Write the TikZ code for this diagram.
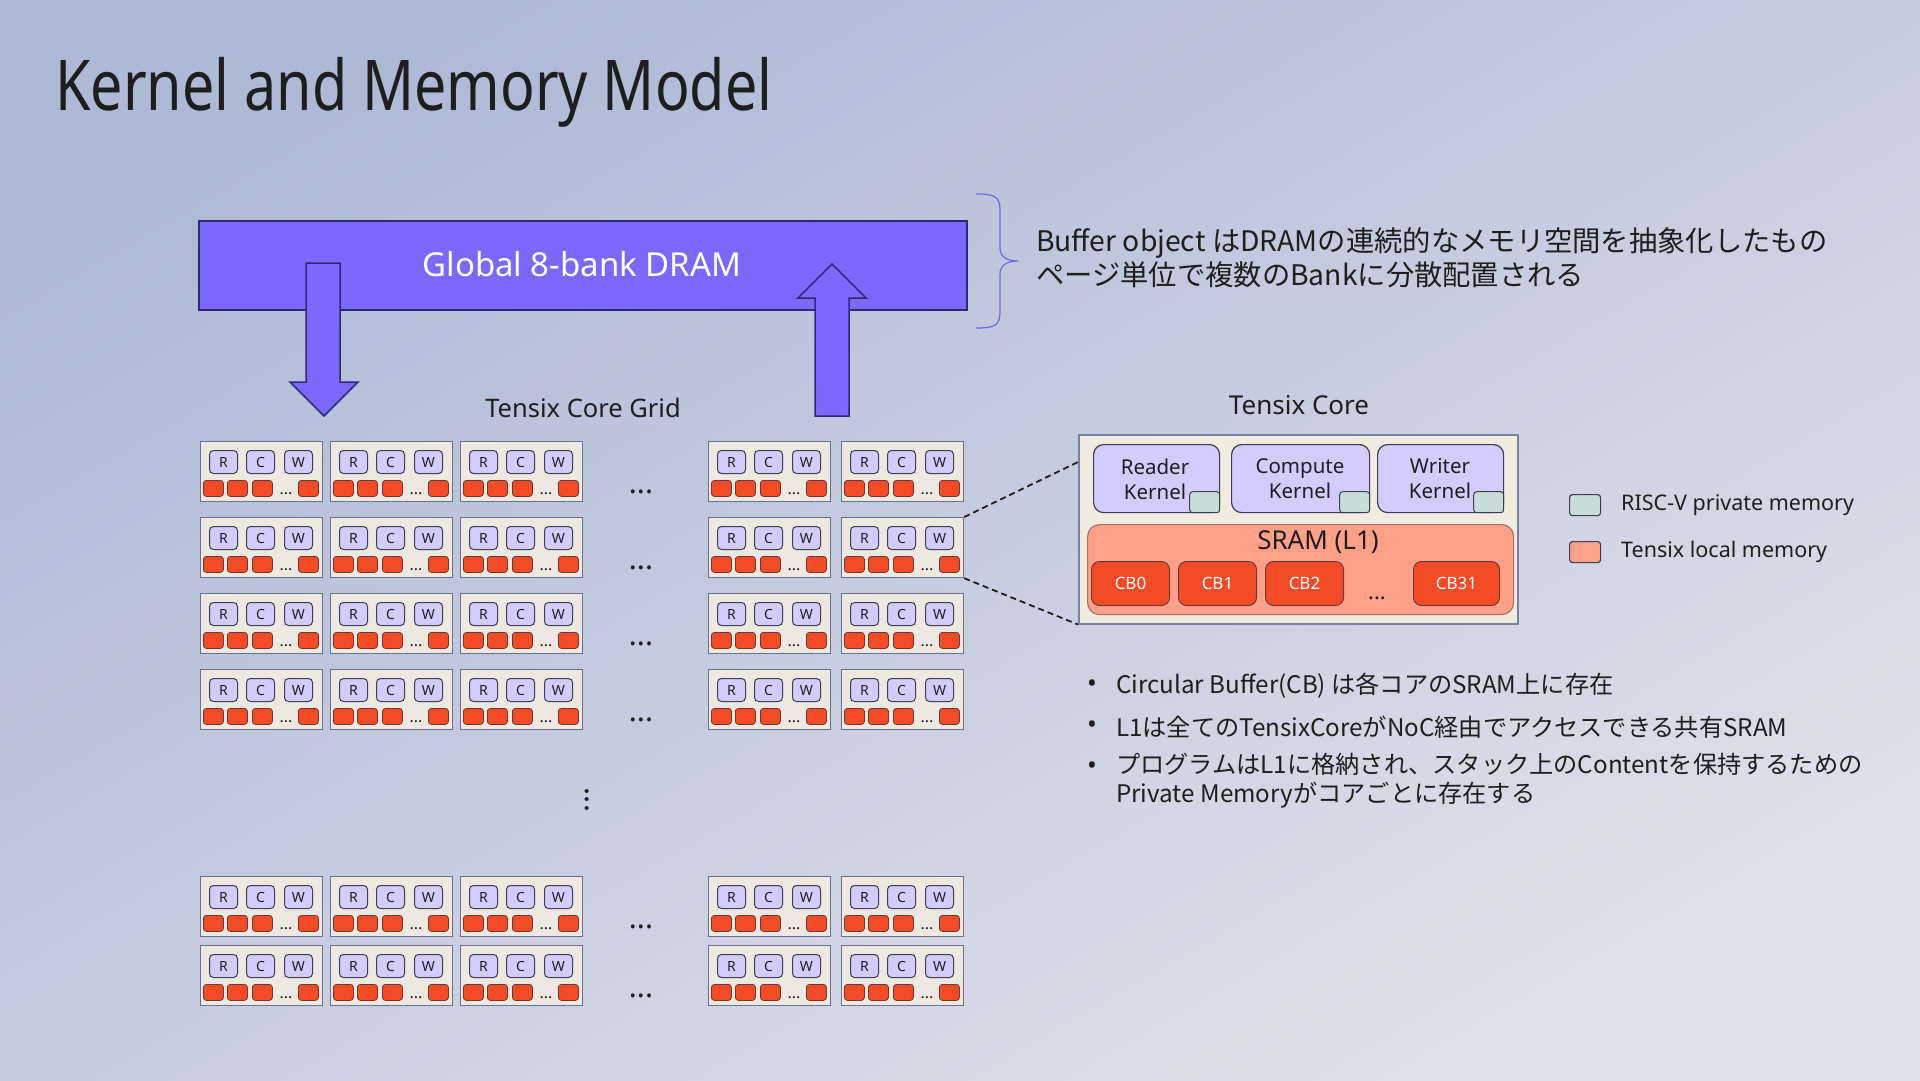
\documentclass[tikz,border=0pt]{standalone}
\usepackage{fontspec}
\setmainfont{Noto Sans}
\newfontfamily\jp{Noto Sans CJK JP}
\newfontfamily\titlefont[FakeStretch=0.82]{Noto Sans}
\definecolor{bgA}{HTML}{AEB9D6}
\definecolor{bgB}{HTML}{DEE0EA}
\definecolor{dramfill}{HTML}{7B68FF}
\definecolor{dramborder}{HTML}{2E2A70}
\definecolor{kfill}{HTML}{D4CCFF}
\definecolor{kborder}{HTML}{3E3E52}
\definecolor{tealfill}{HTML}{C8DDD8}
\definecolor{salmon}{HTML}{FFA089}
\definecolor{salmonborder}{HTML}{B0705F}
\definecolor{cbred}{HTML}{F44B27}
\definecolor{cbborder}{HTML}{6A3A3A}
\definecolor{cellfill}{HTML}{EEE9E0}
\definecolor{cellborder}{HTML}{6A7090}
\definecolor{corefill}{HTML}{F1ECE0}
\definecolor{coreborder}{HTML}{7A80A0}
\definecolor{txt}{HTML}{1E1E1E}
\definecolor{bracecol}{HTML}{6B6BE6}
\tikzset{
  cellbox/.style={draw=cellborder, fill=cellfill, line width=1.2pt, inner sep=0pt, anchor=north west, minimum width=122pt, minimum height=60pt},
  kbox/.style={draw=kborder, fill=kfill, rounded corners=4pt, line width=1pt, minimum width=28pt, minimum height=23pt, inner sep=0pt, anchor=north west, text=txt, font=\fontsize{14}{14}\selectfont},
  rbox/.style={draw=cbborder, fill=cbred, rounded corners=3pt, line width=0.8pt, minimum width=20pt, minimum height=16pt, inner sep=0pt, anchor=north west},
  celldots/.style={inner sep=0pt, text=txt, font=\bfseries\fontsize{16}{16}\selectfont},
  griddots/.style={inner sep=0pt, text=txt, font=\bfseries\fontsize{30}{30}\selectfont},
  bigarrow/.style={draw=dramborder, fill=dramfill, line width=1.5pt, line join=miter},
  kernelbox/.style={draw=kborder, fill=kfill, rounded corners=10pt, line width=1.2pt, inner sep=0pt, anchor=north west},
  privbox/.style={draw=kborder, fill=tealfill, rounded corners=3pt, line width=1pt, inner sep=0pt, anchor=south east, minimum width=30pt, minimum height=21pt},
  cbbox/.style={draw=cbborder, fill=cbred, rounded corners=8pt, line width=1pt, inner sep=0pt, anchor=north west, minimum width=78pt, minimum height=44pt, text=white, font=\fontsize{17}{17}\selectfont},
  legendbox/.style={draw=kborder, rounded corners=3pt, line width=1.2pt, inner sep=0pt, anchor=north west, minimum width=31pt, minimum height=21pt},
  label/.style={inner sep=0pt, text=txt},
  jptext/.style={inner sep=0pt, text=txt, align=left, anchor=west},
  zoomline/.style={txt, line width=1.8pt, dash pattern=on 6pt off 4pt},
  bullet/.style={inner sep=0pt, text=txt, font=\fontsize{26}{26}\selectfont},
}
\begin{document}
\begin{tikzpicture}[x=1pt,y=-1pt]
\useasboundingbox (0,0) rectangle (1920,1080);
\shade[left color=bgA, right color=bgB, shading angle=30] (0,0) rectangle (1920,1080);

% title
\node[label, anchor=base west, font=\titlefont\fontsize{70}{80}\selectfont] (title) at (55,110) {Kernel and Memory Model};

% DRAM
\node[draw=dramborder, fill=dramfill, line width=1.5pt, anchor=north west, minimum width=768pt, minimum height=89pt, inner sep=0pt] (dram) at (198,220) {};
% arrows
\filldraw[bigarrow] (306,263) -- (340,263) -- (340,382) -- (358,382) -- (324,416) -- (290,382) -- (306,382) -- cycle;
\filldraw[bigarrow] (815,416) -- (849,416) -- (849,298) -- (866,298) -- (832,264) -- (798,298) -- (815,298) -- cycle;
\node[label, text=white, font=\fontsize{33}{33}\selectfont] (dramlbl) at (582,264) {Global 8-bank DRAM};

% brace
\draw[bracecol, line width=1.2pt] (976,194) .. controls (994,194) and (1000,196) .. (1000,210) -- (1000,248) .. controls (1000,256) and (1006,261) .. (1018,261) .. controls (1006,261) and (1000,266) .. (1000,274) -- (1000,312) .. controls (1000,326) and (994,328) .. (976,328);
\node[jptext, font=\jp\fontsize{28.3}{34}\selectfont] (buftxt) at (1036,258) {Buffer object はDRAMの連続的なメモリ空間を抽象化したもの\\ページ単位で複数のBankに分散配置される};

% grid
\node[label, font=\fontsize{25.5}{26}\selectfont] (gridlbl) at (583,408) {Tensix Core Grid};
\foreach \r/\y in {1/441,2/517,3/593,4/669,5/876,6/945} {
  \foreach \c/\x in {1/200,2/330,3/460,4/708,5/841} {
    \node[cellbox] (c\r\c) at (\x,\y) {};
    \node[kbox] (kr\r\c) at ([xshift=9pt,yshift=-9pt]c\r\c.north west) {R};
    \node[kbox] (kc\r\c) at ([xshift=46pt,yshift=-9pt]c\r\c.north west) {C};
    \node[kbox] (kw\r\c) at ([xshift=84pt,yshift=-9pt]c\r\c.north west) {W};
    \node[rbox] (ra\r\c) at ([xshift=3pt,yshift=-39pt]c\r\c.north west) {};
    \node[rbox] (rb\r\c) at ([xshift=27pt,yshift=-39pt]c\r\c.north west) {};
    \node[rbox] (rc\r\c) at ([xshift=52pt,yshift=-39pt]c\r\c.north west) {};
    \node[celldots, anchor=base] (rd\r\c) at ([xshift=86pt,yshift=-53pt]c\r\c.north west) {...};
    \node[rbox] (re\r\c) at ([xshift=98pt,yshift=-39pt]c\r\c.north west) {};
  }
  \node[griddots, anchor=base] (hd\r) at (641,\y+52) {...};
}
\node[griddots, rotate=-90, anchor=center] (vd) at (587,800) {...};

% tensix core detail
\node[label, font=\fontsize{26}{26}\selectfont] (corelbl) at (1299,405) {Tensix Core};
\node[draw=coreborder, fill=corefill, line width=1.5pt, anchor=north west, minimum width=439pt, minimum height=189pt, inner sep=0pt] (tc) at (1078,434) {};
\node[kernelbox, minimum width=126pt, minimum height=68pt] (rk) at (1093,444) {};
\node[kernelbox, minimum width=138pt, minimum height=68pt] (ck) at (1231,444) {};
\node[kernelbox, minimum width=126pt, minimum height=68pt] (wk) at (1377,444) {};
\node[privbox] (rkp) at (rk.south east) {};
\node[privbox] (ckp) at (ck.south east) {};
\node[privbox] (wkp) at (wk.south east) {};
\node[label, align=center, font=\fontsize{20.5}{25}\selectfont] (rkl) at (1155,479) {Reader\\Kernel};
\node[label, align=center, font=\fontsize{20.5}{25}\selectfont] (ckl) at (1300,479) {Compute\\Kernel};
\node[label, align=center, font=\fontsize{20.5}{25}\selectfont] (wkl) at (1440,479) {Writer\\Kernel};
\node[draw=salmonborder, fill=salmon, rounded corners=12pt, line width=1.2pt, anchor=north west, minimum width=426pt, minimum height=90pt, inner sep=0pt] (sram) at (1087,524) {};
\node[label, font=\fontsize{26}{26}\selectfont] (sraml) at (1318,542) {SRAM (L1)};
\node[cbbox] (cb0) at (1091,561) {CB0};
\node[cbbox] (cb1) at (1178,561) {CB1};
\node[cbbox] (cb2) at (1265,561) {CB2};
\node[celldots, font=\bfseries\fontsize{22}{22}\selectfont, anchor=base] (cbd) at (1377,599) {...};
\node[cbbox, minimum width=86pt] (cb31) at (1413,561) {CB31};

% zoom lines
\draw[zoomline] (c25.north east) -- ([yshift=-28pt]tc.north west);
\draw[zoomline] (c25.south east) -- (tc.south west);

% legend
\node[legendbox, fill=tealfill] (lg1) at (1569,494) {};
\node[label, anchor=west, font=\fontsize{21.5}{22}\selectfont] (lg1t) at (1621,505) {RISC-V private memory};
\node[legendbox, fill=salmon] (lg2) at (1569,541) {};
\node[label, anchor=west, font=\fontsize{21.5}{22}\selectfont] (lg2t) at (1621,552) {Tensix local memory};

% bullets
\node[bullet] (b1) at (1092,686) {•};
\node[jptext, font=\jp\fontsize{24.2}{34}\selectfont] (t1) at (1116,686) {Circular Buffer(CB) は各コアのSRAM上に存在};
\node[bullet] (b2) at (1092,727) {•};
\node[jptext, font=\jp\fontsize{24.2}{34}\selectfont] (t2) at (1116,727) {L1は全てのTensixCoreがNoC経由でアクセスできる共有SRAM};
\node[bullet] (b3) at (1092,768) {•};
\node[jptext, font=\jp\fontsize{24.2}{29}\selectfont] (t3) at (1116,781) {プログラムはL1に格納され、スタック上のContentを保持するための\\Private Memoryがコアごとに存在する};
\end{tikzpicture}
\end{document}
